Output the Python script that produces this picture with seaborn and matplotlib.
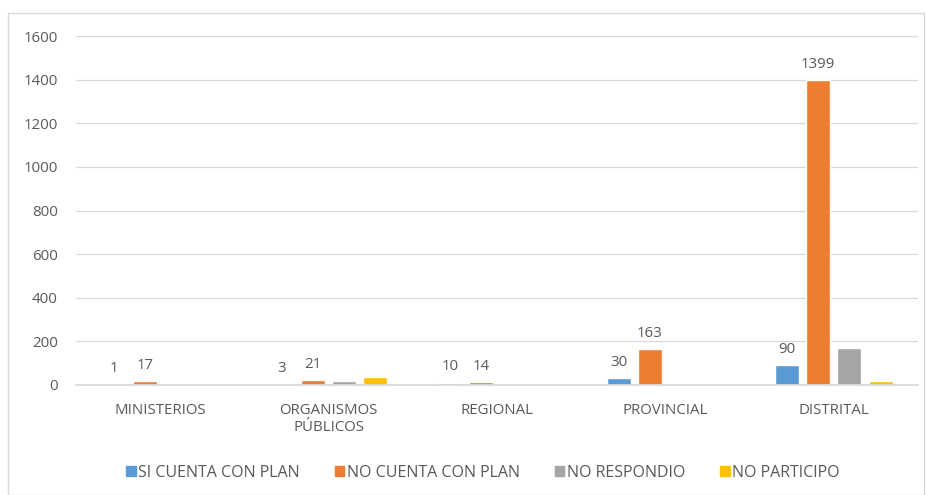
import matplotlib
matplotlib.use("Agg")
import matplotlib.pyplot as plt
import matplotlib.patches as mpatches
import seaborn as sns
import pandas as pd

categorias = ["MINISTERIOS", "ORGANISMOS\nPÚBLICOS", "REGIONAL", "PROVINCIAL", "DISTRITAL"]
series = ["SI CUENTA CON PLAN", "NO CUENTA CON PLAN", "NO RESPONDIO", "NO PARTICIPO"]
si_cuenta = [1, 3, 10, 30, 90]
no_cuenta = [17, 21, 14, 163, 1399]
no_respondio = [0, 20, 5, 5, 170]
no_participo = [0, 37, 0, 0, 20]
colores = ["#5B9BD5", "#ED7D31", "#A5A5A5", "#FFC000"]
y_ticks = [0, 200, 400, 600, 800, 1000, 1200, 1400, 1600]

valores = [si_cuenta, no_cuenta, no_respondio, no_participo]
df = pd.DataFrame(
    [(c, s, v[i]) for s, v in zip(series, valores) for i, c in enumerate(categorias)],
    columns=["categoria", "serie", "valor"],
)

sns.set_theme(style="white")
plt.rcParams["font.family"] = ["Open Sans", "DejaVu Sans"]
texto = "#595959"
fs = 10.8

fig = plt.figure(figsize=(9.26, 4.95), dpi=100)
ax = fig.add_axes([76 / 926, 1 - 385 / 495, (918 - 76) / 926, (385 - 36) / 495])

sns.barplot(data=df, x="categoria", y="valor", hue="serie", order=categorias,
            hue_order=series, palette=colores, width=0.74, gap=0.23,
            saturation=1, ax=ax, legend=False, errorbar=None)

ax.set_ylim(0, 1600)
ax.set_yticks(y_ticks)
ax.set_yticklabels([str(t) for t in y_ticks])
ax.yaxis.grid(True, color="#D9D9D9", linewidth=0.9)
ax.set_axisbelow(True)
for s in ["top", "right", "left"]:
    ax.spines[s].set_visible(False)
ax.spines["bottom"].set_color("#D9D9D9")
ax.tick_params(axis="both", length=0, labelsize=fs, colors=texto)
ax.tick_params(axis="x", pad=13)
ax.tick_params(axis="y", pad=13)
ax.set_xlabel("")
ax.set_ylabel("")

# value labels for the first two series
for cont in ax.containers[:2]:
    ax.bar_label(cont, padding=6, fontsize=fs, color=texto)

handles = [mpatches.Patch(color=c, label=s) for c, s in zip(colores, series)]
fig.legend(handles=handles, loc="center", bbox_to_anchor=(483 / 926, 1 - 473 / 495),
           ncol=4, frameon=False, fontsize=11.5, labelcolor=texto,
           handlelength=0.6, handleheight=0.6, handletextpad=0.15, columnspacing=2.2)

fig.patches.append(mpatches.Rectangle((8 / 926, 0.5 / 495), 916 / 926, (495 - 13.5) / 495,
                                      transform=fig.transFigure, fill=False,
                                      edgecolor="#D9D9D9", linewidth=1))

fig.savefig("out.png", dpi=100)
